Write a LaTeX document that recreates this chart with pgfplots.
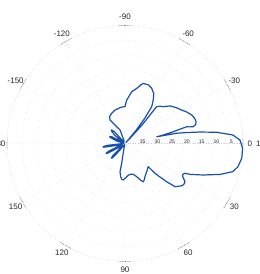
\documentclass[border=0pt]{standalone}
\usepackage{pgfplots}
\pgfplotsset{compat=1.18}
\usepgfplotslibrary{polar}
\usepackage{fontspec}
\setmainfont{Liberation Sans}
\definecolor{curve}{RGB}{25,80,170}
\definecolor{gridc}{RGB}{205,214,236}
\begin{document}
\begin{tikzpicture}
\begin{polaraxis}[
  width=236pt, height=236pt, scale only axis,
  xmin=0, xmax=360, ymin=0, ymax=40,
  xtick={0,30,...,330}, ytick={5,10,...,35},
  xticklabels={}, yticklabels={},
  grid=major,
  major grid style={gridc, dotted, line width=0.5pt},
  axis line style={gridc!85!gray, dotted, line width=0.6pt},
  major tick length=0pt,
  clip=false,
]
\coordinate (C) at (axis cs:0,0);
% radial labels (dB, reversed)
\pgfplotsforeachungrouped \r/\t in {5/35,10/30,15/25,20/20,25/15,30/10,35/5}{
  \edef\tmp{\noexpand\node[font=\noexpand\fontsize{5.2}{6}\noexpand\selectfont, text=black!85, xshift=3pt, yshift=1.6pt] at (axis cs:0,\r) {\t};}\tmp
}
% angular labels
\pgfplotsforeachungrouped \a/\t in {90/-90,120/-120,60/-60,150/-150,30/-30,330/30,300/60,270/90,240/120,210/150,180/180}{
  \edef\tmp{\noexpand\node[font=\noexpand\fontsize{8}{9}\noexpand\selectfont, text=black!85] at (axis cs:\a,42.8) {\t};}\tmp
}
\node[font=\fontsize{8}{9}\selectfont, text=black!85] at (axis cs:0,42.3) {0};
% darker tick dashes on the outer circle
\pgfplotsforeachungrouped \a in {0,30,...,330}{
  \pgfmathsetmacro\aa{\a-3}\pgfmathsetmacro\ab{\a}\pgfmathsetmacro\ad{\a+3}
  \edef\tmp{\noexpand\draw[gray!80!black, densely dotted, line width=0.6pt] (axis cs:\aa,40) -- (axis cs:\ab,40) -- (axis cs:\ad,40);}\tmp
}
\addplot[curve, line width=1.2pt, no markers, line join=round] coordinates {
(178,0.3) (163,3) (158,5.3) (156,5.7) (153,5) (149,0.5)
(141,4.5) (137,6.3) (135,6.5) (132,5.5) (127,0.5)
(110,1) (110,4.9) (118.4,7.1) (122.5,9.4) (120,10.5) (113.8,11.2) (107,11.8) (100.8,12.1) (95,12.4) (90,12.5)
(87.8,14.7) (82.6,17.7) (78,19.1) (75,20.5) (73,21.3) (68,21.4) (64.2,20.8) (60,19.5) (57,17.6) (54,15.4) (52,11) (50,6) (48.5,1.5) (47.5,0.5)
(46.5,4) (47.5,9) (49,13.9) (49.3,16.5) (46.5,17.4) (43.9,18) (39.8,19.9) (35,21.2) (30.6,22.3) (27,23.5) (23.1,24.6) (20,25.1) (17.1,25.2) (15,24.8) (13.8,23.8) (14.5,22.5) (15.2,21.7) (14.5,19) (13.7,16.9) (12.8,14) (12.1,12.1) (12,11)
(11.2,17.9) (10,21.5) (8.7,25.7) (7,31.3) (4.5,36.7) (1.7,39) (-2.3,39.9) (-7.1,39.9) (-11.6,39.1) (-14.6,37.8) (-18,33.9) (-22,28.5) (-25.4,24.4) (-26.4,22.7) (-28,22.2) (-29.9,22.6) (-32.5,24.1) (-34.5,24.3) (-36.7,24.0) (-40.8,22.4) (-42.5,19.2) (-44,16) (-44.8,14.3) (-44.9,11.1)
(-52,12) (-58.9,13.1) (-61.5,13.8) (-64.4,14.4) (-67,13.5) (-70.6,11.9) (-75,10.8) (-80.8,10.6) (-84,10.8) (-87.1,11.3) (-92.7,12.4) (-95,12.2) (-97.4,11.4) (-100,9.7) (-99.5,6.8) (-101,3) (-102,1) (-110,0.3)
(-128,3) (-131,6.5) (-133,6.8) (-135,6) (-137,1) (-148,3) (-151,7) (-153,7.2) (-155,6) (-158,1) (-167,3) (-170,7.3) (-172,7.5) (-174,6) (-177,1) (-182,0.3)
};
\end{polaraxis}
\node[font=\fontsize{8}{9}\selectfont, text=black!85, anchor=west, inner sep=0pt] at ([xshift=131pt]C) {180};
\pgfresetboundingbox
\path[use as bounding box] (C) ++(-125pt,-130.5pt) rectangle ++(260pt,274pt);
\end{tikzpicture}
\end{document}
